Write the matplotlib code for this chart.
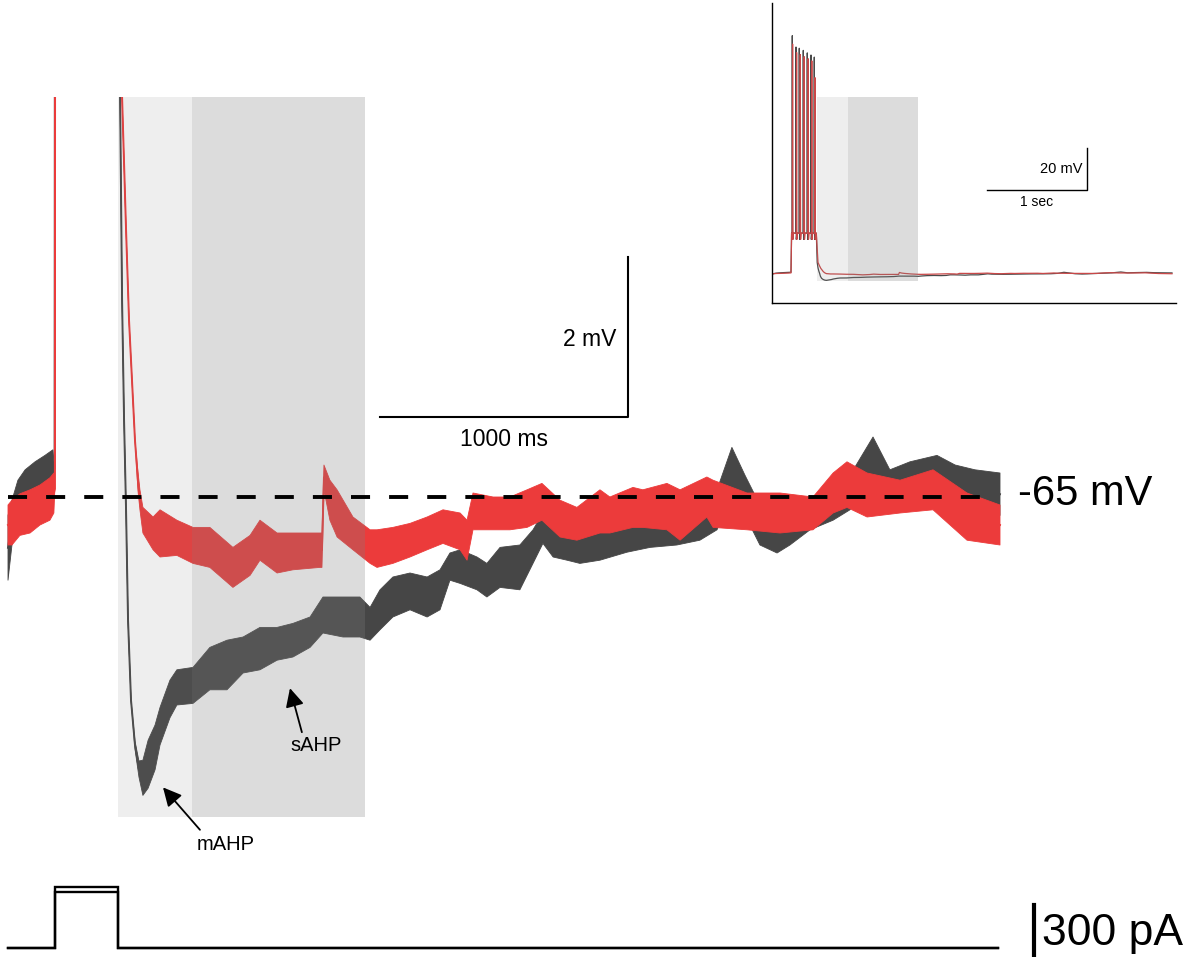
import numpy as np
import matplotlib
matplotlib.use("Agg")
import matplotlib.pyplot as plt

plt.rcParams['font.family'] = ['Liberation Sans', 'DejaVu Sans']

# ---------------- data (time in ms, membrane potential in mV) ----------------
t_dark = [0, 16, 40, 69, 109, 149, 181, 188, 192, 440, 452, 460, 468, 476, 484, 496,
          512, 528, 544, 565, 593, 613, 653, 681, 746, 814, 883, 948, 1016, 1085, 1149,
          1218, 1270, 1351, 1419, 1460, 1500, 1552, 1621, 1690, 1742, 1782, 1823, 1891,
          1931, 1984, 2064, 2117, 2157, 2198, 2254, 2306, 2387, 2496, 2589, 2697, 2790,
          2859, 2919, 2972, 3032, 3101, 3153, 3234, 3327, 3395, 3488, 3556, 3637, 3746,
          3819, 3899, 4000]
dark_hi = [-65.23, -65.04, -64.79, -64.66, -64.56, -64.48, -64.41, -64.65, -40, -40, -60.0,
           -62.54, -64.04, -65.16, -66.54, -67.54, -68.05, -68.30, -68.29, -68.04, -67.85,
           -67.63, -67.29, -67.16, -67.13, -66.88, -66.79, -66.75, -66.63, -66.63, -66.58,
           -66.50, -66.25, -66.25, -66.25, -66.38, -66.16, -66.00, -65.95, -66.00, -65.91,
           -65.70, -65.66, -65.75, -65.83, -65.63, -65.60, -65.41, -65.20, -65.33, -65.38,
           -65.41, -65.38, -65.33, -65.25, -65.23, -65.16, -64.91, -64.38, -64.73, -65.10,
           -65.29, -65.23, -65.04, -64.83, -64.73, -64.25, -64.66, -64.56, -64.48, -64.60,
           -64.66, -64.70]
dark_lo = [-66.04, -65.60, -65.35, -65.23, -65.10, -64.98, -64.91, -64.65, -40, -40, -60.0,
           -62.54, -64.04, -65.16, -66.54, -67.54, -68.15, -68.50, -68.73, -68.64, -68.41,
           -68.10, -67.76, -67.60, -67.58, -67.41, -67.41, -67.20, -67.16, -67.04, -67.00,
           -66.88, -66.70, -66.75, -66.75, -66.79, -66.66, -66.50, -66.41, -66.50, -66.41,
           -66.04, -66.08, -66.16, -66.25, -66.13, -66.16, -65.83, -65.58, -65.75, -65.79,
           -65.83, -65.79, -65.69, -65.63, -65.60, -65.54, -65.41, -64.95, -65.23, -65.60,
           -65.70, -65.60, -65.41, -65.29, -65.16, -64.79, -65.16, -65.04, -64.91, -65.10,
           -65.16, -65.23]

t_red = [0, 16, 48, 89, 129, 169, 185, 189, 193, 440, 460, 476, 488, 500, 512, 524, 532,
         544, 585, 613, 681, 746, 814, 907, 976, 1016, 1085, 1149, 1258, 1266, 1274, 1298,
         1327, 1391, 1460, 1488, 1552, 1621, 1690, 1754, 1823, 1851, 1875, 1956, 2024,
         2093, 2153, 2226, 2294, 2387, 2427, 2520, 2560, 2657, 2710, 2818, 2843, 2980,
         3113, 3246, 3327, 3383, 3464, 3597, 3730, 3867, 4000]
red_hi = [-65.10, -65.04, -64.96, -64.91, -64.85, -64.76, -64.70, -64.90, -40, -40, -60.0,
          -61.66, -62.79, -63.54, -64.29, -64.68, -64.91, -65.13, -65.25, -65.16, -65.29,
          -65.38, -65.38, -65.63, -65.48, -65.29, -65.45, -65.45, -65.45, -65.45, -64.60,
          -64.79, -64.91, -65.25, -65.41, -65.41, -65.38, -65.33, -65.25, -65.16, -65.20,
          -65.29, -64.95, -65.00, -65.00, -64.91, -64.83, -65.04, -65.13, -64.91, -65.00,
          -64.88, -64.91, -64.83, -64.91, -64.75, -64.79, -64.95, -64.95, -65.00, -64.70,
          -64.56, -64.70, -64.79, -64.66, -64.95, -65.10]
red_lo = [-65.60, -65.60, -65.48, -65.45, -65.35, -65.29, -65.20, -64.90, -40, -40, -60.0,
          -61.66, -62.79, -63.54, -64.29, -64.92, -65.16, -65.45, -65.66, -65.75, -65.73,
          -65.83, -65.88, -66.13, -65.98, -65.79, -65.95, -65.91, -65.88, -65.88, -64.91,
          -65.29, -65.50, -65.66, -65.83, -65.88, -65.83, -65.75, -65.66, -65.58, -65.66,
          -65.79, -65.41, -65.41, -65.41, -65.38, -65.29, -65.50, -65.54, -65.45, -65.45,
          -65.38, -65.38, -65.41, -65.54, -65.25, -65.38, -65.41, -65.45, -65.41, -65.20,
          -65.13, -65.25, -65.20, -65.16, -65.54, -65.60]

# inset: action potentials during the current step
pulse_on, pulse_off = 190, 443
plateau_v = -46
spike_t_dark = [203, 240, 273, 313, 353, 390, 423]
spike_v_dark = [48, 42.6, 42, 41, 39.8, 38.8, 37.8]
spike_t_red = [206, 246, 283, 322, 362, 398, 430]
spike_v_red = [44, 40, 39, 38, 37, 36, 28]

# current injection (pA)
t_cur = [0, 190, 190, 443, 443, 3992]
cur_a = [0, 0, 350, 350, 0, 0]
cur_b = [0, 0, 322, 322, 0, 0]

# analysis windows (ms) and baseline (mV)
mahp_win = (443, 742)
sahp_win = (742, 1440)
shade_v = (-69, -60)
inset_shade_v = (-69, 19)
rest_v = -65

DARK = '#464646'
RED = '#ec3b3b'

# ---------------- figure ----------------
W, H = 1186, 957
fig = plt.figure(figsize=(W / 100, H / 100), dpi=100)
fig.patch.set_facecolor('white')

PX_MS = 0.248   # pixels per ms
PX_MV = 80.0    # pixels per mV
X0 = 8          # pixel of t=0
Y65 = 497       # pixel of -65 mV

ax = fig.add_axes([0, (H - 860) / H, 1, (860 - 97) / H])
ax.set_xlim(-X0 / PX_MS, (W - X0) / PX_MS)
ax.set_ylim(-65 - (860 - Y65) / PX_MV, -65 + (Y65 - 97) / PX_MV)
ax.axis('off')

td, dh, dl = map(np.array, (t_dark, dark_hi, dark_lo))
tr, rh, rl = map(np.array, (t_red, red_hi, red_lo))

ax.fill_between(td, dl, dh, color=DARK, lw=0.6, edgecolor=DARK, zorder=1)
ax.plot(td, (dh + dl) / 2, color=DARK, lw=1.4, zorder=1)
ax.fill_between(tr, rl, rh, color=RED, lw=0.6, edgecolor=RED, zorder=2)
ax.plot(tr, (rh + rl) / 2, color=RED, lw=1.4, zorder=2)

# shaded windows (drawn over the traces, semi-transparent)
ax.fill_between(list(mahp_win), shade_v[0], shade_v[1], color='#808080', alpha=0.13, lw=0, zorder=3)
ax.fill_between(list(sahp_win), shade_v[0], shade_v[1], color='#808080', alpha=0.27, lw=0, zorder=3)

# baseline dashed line
ax.plot([0, (985 - X0) / PX_MS], [rest_v, rest_v], color='black', lw=2.8,
        ls=(0, (4.9, 4.9)), zorder=4, solid_capstyle='butt')
ax.text((1018 - X0) / PX_MS, -65.1, '-65 mV', fontsize=30, va='baseline', ha='left', zorder=5)

# scale bar 1000 ms / 2 mV
sb_x1 = (628 - X0) / PX_MS
sb_y0 = -64.0
ax.plot([sb_x1 - 1000, sb_x1, sb_x1], [sb_y0, sb_y0, sb_y0 + 2], color='black', lw=1.5, zorder=5)
ax.text(sb_x1 - 45, sb_y0 + 0.97, '2 mV', fontsize=16.5, ha='right', va='center', zorder=5)
ax.text(sb_x1 - 500, sb_y0 - 0.28, '1000 ms', fontsize=16.5, ha='center', va='center', zorder=5)

# annotations
arr = dict(arrowstyle='-|>', color='black', lw=1.3, mutation_scale=28, shrinkA=0, shrinkB=0)
ax.annotate('', xy=(1137, -67.39), xytext=(1185, -67.94), arrowprops=arr, zorder=6)
ax.text(1242, -68.11, 'sAHP', fontsize=14.5, ha='center', va='center', zorder=6)
ax.annotate('', xy=(625, -68.63), xytext=(774, -69.16), arrowprops=arr, zorder=6)
ax.text(879, -69.35, 'mAHP', fontsize=14.5, ha='center', va='center', zorder=6)

# ---------------- current trace ----------------
PX_PA = 61 / 350
axc = fig.add_axes([0, 0, 1, (H - 860) / H])
axc.set_xlim(ax.get_xlim())
axc.set_ylim(-(957 - 948) / PX_PA, (948 - 860) / PX_PA)
axc.axis('off')
axc.plot(t_cur, cur_a, color='black', lw=1.7, solid_joinstyle='miter')
axc.plot(t_cur, cur_b, color='black', lw=1.7, solid_joinstyle='miter')
bar_t = (1034 - X0) / PX_MS
axc.plot([bar_t, bar_t], [-60, 248], color='black', lw=3.0, clip_on=False)
axc.text((1042 - X0) / PX_MS, 17, '300 pA', fontsize=32, va='baseline', ha='left')

# ---------------- inset ----------------
axi = fig.add_axes([772 / W, (H - 303) / H, 404 / W, 300 / H])
IPX_MV = 2.1
axi.set_xlim(0, 4040)
axi.set_ylim(-65 - 30 / IPX_MV, -65 + 270 / IPX_MV)
for s in ('top', 'right'):
    axi.spines[s].set_visible(False)
for s in ('left', 'bottom'):
    axi.spines[s].set_linewidth(1.0)
axi.set_xticks([])
axi.set_yticks([])
axi.patch.set_alpha(0)


def inset_trace(t, hi, lo, st, sv):
    c = (hi + lo) / 2
    pre = t <= 185
    post = t >= 452
    tt = list(t[pre]) + [pulse_on, pulse_on + 6]
    vv = list(c[pre]) + [c[pre][-1], plateau_v]
    for ts, vs in zip(st, sv):
        tt += [ts - 3, ts, ts + 3, ts + 8]
        vv += [plateau_v, vs, plateau_v - 3, plateau_v]
    tt += [pulse_off]
    vv += [plateau_v]
    tt += list(t[post])
    vv += list(c[post])
    return tt, vv


ti, vi = inset_trace(td, dh, dl, spike_t_dark, spike_v_dark)
axi.plot(ti, vi, color='#4a4a4a', lw=0.9, zorder=1)
ti, vi = inset_trace(tr, rh, rl, spike_t_red, spike_v_red)
axi.plot(ti, vi, color='#c94848', lw=0.9, zorder=2)
axi.fill_between([450, 760], inset_shade_v[0], inset_shade_v[1], color='#808080', alpha=0.13, lw=0, zorder=3)
axi.fill_between([760, 1460], inset_shade_v[0], inset_shade_v[1], color='#808080', alpha=0.27, lw=0, zorder=3)

isb_x = 3150
isb_y = -25.5
axi.plot([isb_x - 1000, isb_x, isb_x], [isb_y, isb_y, isb_y + 20], color='black', lw=1.0)
axi.text(isb_x - 50, isb_y + 10, '20 mV', fontsize=10.5, ha='right', va='center')
axi.text(isb_x - 500, isb_y - 5.5, '1 sec', fontsize=10, ha='center', va='center')

fig.savefig('out.png', dpi=100, facecolor='white')
